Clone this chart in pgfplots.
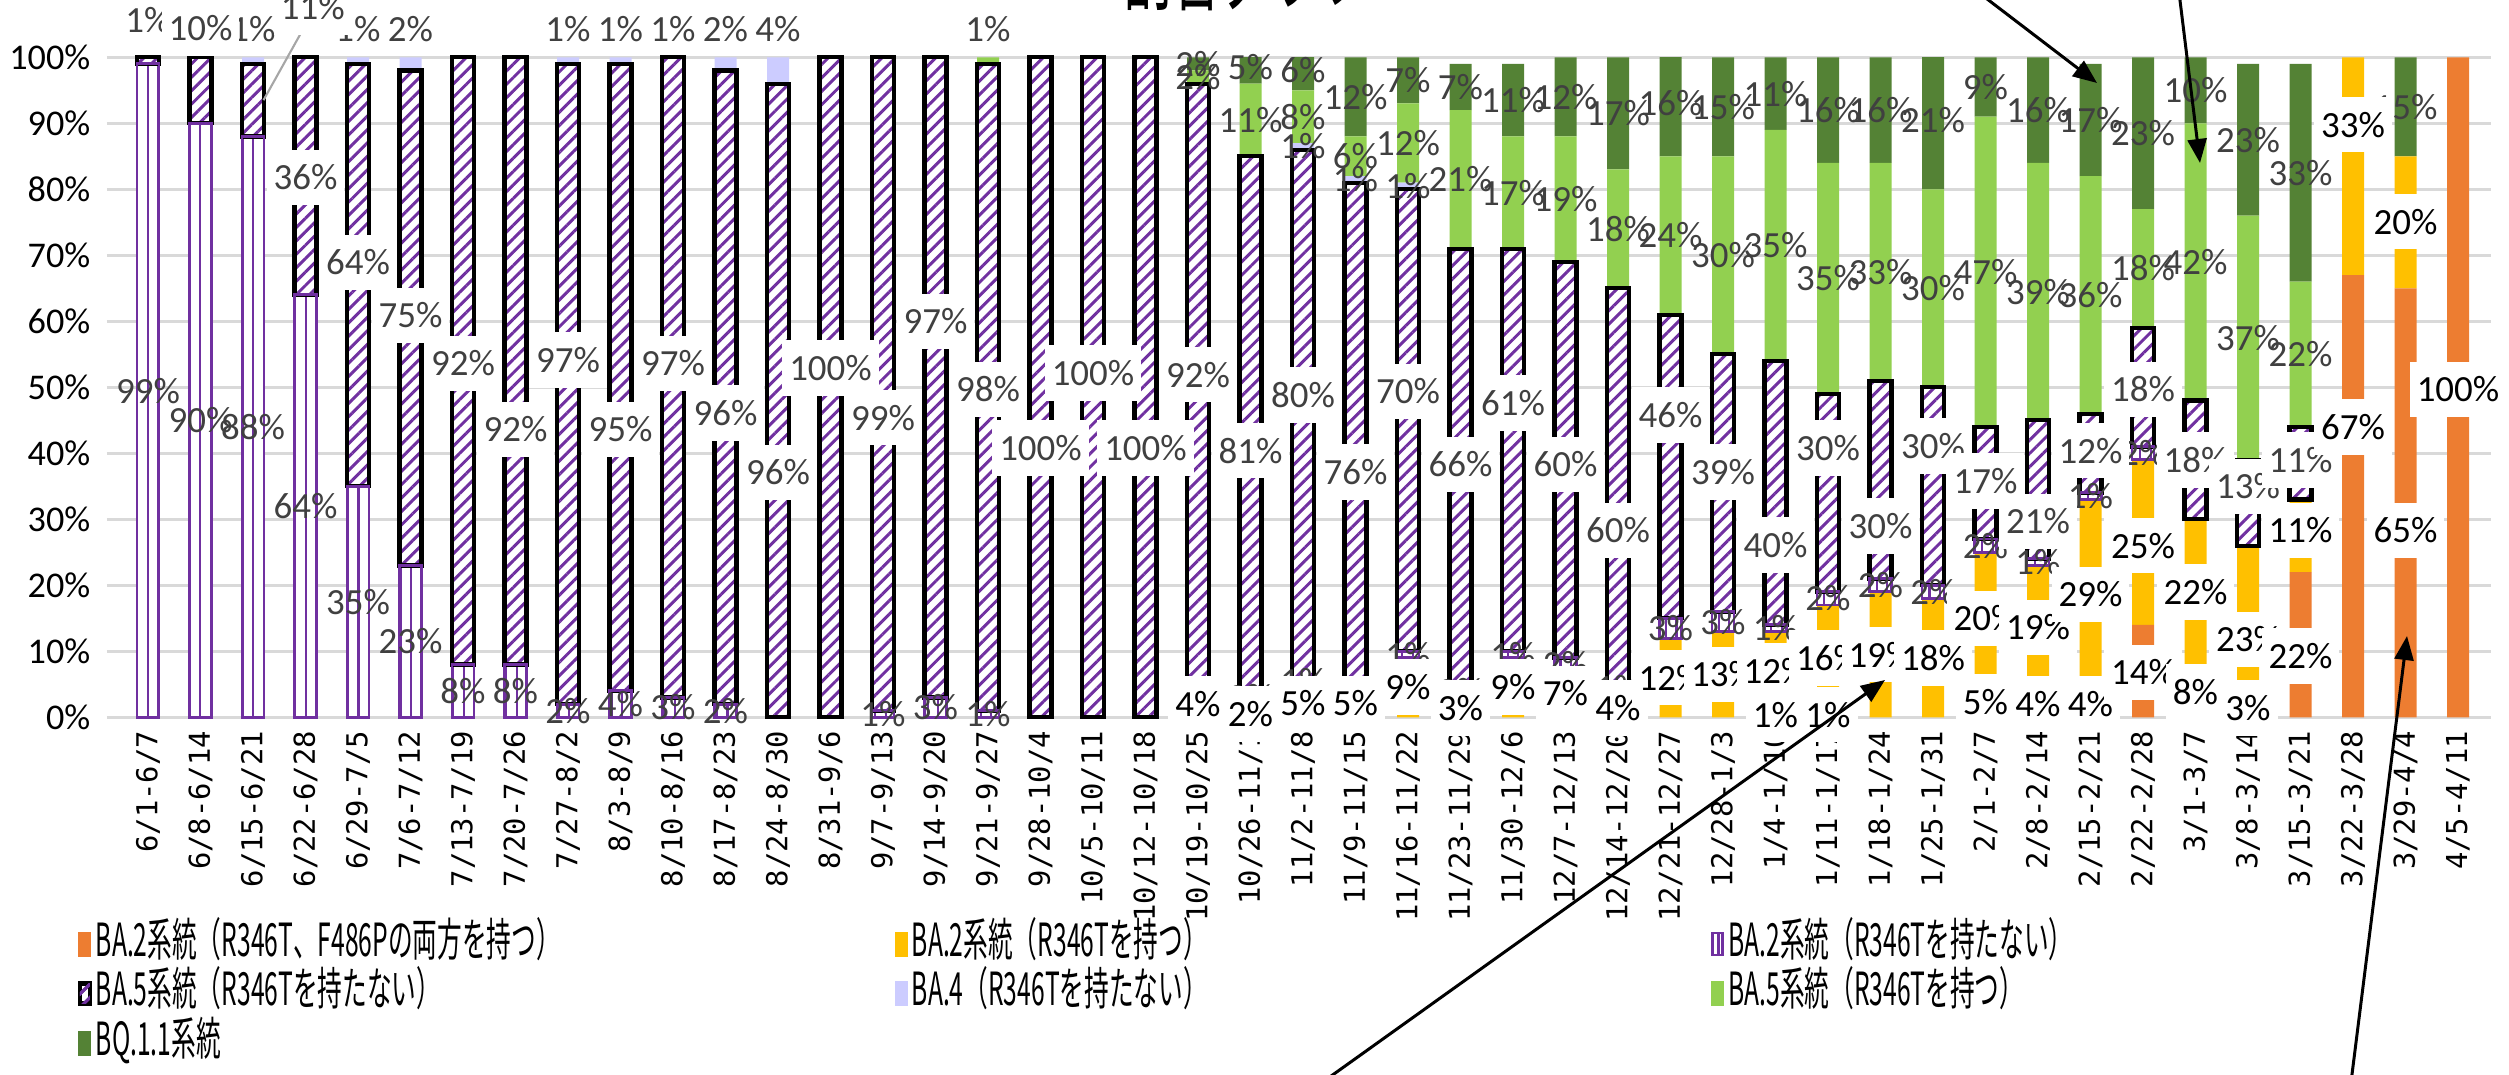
\documentclass[border=0pt]{standalone}
\usepackage{fontspec}
\setmainfont{Carlito}
\newfontfamily\jpfont[FakeStretch=0.54]{Noto Sans CJK JP}
\newfontfamily\monofont{DejaVu Sans Mono}
\usepackage{pgfplots}
\pgfplotsset{compat=1.18}
\usepackage{pgfplotstable}
\usetikzlibrary{patterns.meta,arrows.meta}

\definecolor{cA}{HTML}{ED7D31}
\definecolor{cB}{HTML}{FFC000}
\definecolor{purp}{HTML}{7030A0}
\definecolor{cE}{HTML}{CCCCFF}
\definecolor{cF}{HTML}{92D050}
\definecolor{cG}{HTML}{548235}
\definecolor{gridc}{HTML}{D9D9D9}
\definecolor{lblgray}{HTML}{404040}

% values in %; Ay, By, Dy = height at which the data label of A, B, D sits
\pgfplotstableread{
x A B C D E F G Ay By Dy
1 0 0 99 1 0 0 0 0 0 105.6
2 0 0 90 10 0 0 0 0 0 104.4
3 0 0 88 11 1 0 0 0 0 0
4 0 0 64 36 0 0 0 0 0 81.8
5 0 0 35 64 1 0 0 0 0 68.9
6 0 0 23 75 2 0 0 0 0 60.9
7 0 0 8 92 0 0 0 0 0 53.6
8 0 0 8 92 0 0 0 0 0 43.6
9 0 0 2 97 1 0 0 0 0 54.1
10 0 0 4 95 1 0 0 0 0 43.6
11 0 0 3 97 0 1 0 0 0 53.6
12 0 0 2 96 2 0 0 0 0 46.1
13 0 0 0 96 4 0 0 0 0 37.1
14 0 0 0 100 0 0 0 0 0 52.9
15 0 0 1 99 0 0 0 0 0 45.4
16 0 0 3 97 0 0 0 0 0 60.0
17 0 0 1 98 0 1 0 0 0 49.7
18 0 0 0 100 0 0 0 0 0 40.8
19 0 0 0 100 0 0 0 0 0 52.2
20 0 0 0 100 0 0 0 0 0 40.8
21 0 4 0 92 0 2 2 0 2.0 51.9
22 0 2 2 81 0 11 5 0 0.5 40.4
23 0 5 1 80 1 8 6 0 2.1 48.8
24 0 5 0 76 1 6 12 0 2.1 37.2
25 0 9 1 70 1 12 7 0 4.6 49.4
26 0 3 2 66 0 21 7 0 1.4 38.3
27 0 9 1 61 0 17 11 0 4.6 47.6
28 0 7 2 60 0 19 12 0 3.6 38.3
29 0 4 1 60 0 18 17 0 1.4 28.3
30 0 12 3 46 0 24 16 0 6.0 45.8
31 0 13 3 39 0 30 15 0 6.5 37.2
32 1 12 1 40 0 35 11 0.4 7.0 26.1
33 1 16 2 30 0 35 16 0.4 9.0 40.8
34 0 19 2 30 0 33 16 0 9.5 29.0
35 0 18 2 30 0 30 21 0 9.0 41.1
36 5 20 2 17 0 47 9 2.3 15.0 35.8
37 4 19 1 21 0 39 16 2.0 13.6 29.7
38 4 29 1 12 0 36 17 2.0 18.6 40.4
39 14 25 2 18 0 18 23 6.8 26.0 49.7
40 8 22 0 18 0 42 10 3.9 19.0 39.0
41 3 23 0 13 0 37 23 1.4 11.8 35.0
42 22 11 0 11 0 22 33 9.3 28.3 39.0
43 67 33 0 0 0 0 0 44.0 89.8 0
44 65 20 0 0 0 0 15 28.3 75.1 0
45 100 0 0 0 0 0 0 49.7 0 0
}\datatable

\pgfplotsset{
  base/.style={
    scale only axis, width=238.4mm, height=66.0mm,
    at={(10.7mm,35.67mm)}, anchor=south west,
    xmin=0.219, xmax=45.629, ymin=0, ymax=100,
    enlargelimits=false,
  },
  lbl/.style={draw=none, mark=none, point meta=explicit,
    nodes near coords={\pgfmathprintnumber[fixed,precision=0,assume math mode=true]{\pgfplotspointmeta}\%},
    every node near coord/.append style={anchor=center, font=\fontsize{10.5}{12}\selectfont, text=lblgray, inner sep=0.3mm}},
  boxed/.style={every node near coord/.append style={fill=white, inner xsep=0.7mm, inner ysep=1.5mm}},
  blk/.style={every node near coord/.append style={text=black}},
}

\begin{document}
\begin{tikzpicture}
\useasboundingbox (0,0) rectangle (250.9mm,107.4mm);

% ---------- bars ----------
\begin{axis}[base, ybar stacked, bar width=2.2mm,
  ytick={0,10,...,100},
  yticklabels={0\%,10\%,20\%,30\%,40\%,50\%,60\%,70\%,80\%,90\%,100\%},
  ymajorgrids, grid style={gridc, line width=0.75pt},
  xtick={1,...,45},
  xticklabels={6/1-6/7,6/8-6/14,6/15-6/21,6/22-6/28,6/29-7/5,7/6-7/12,7/13-7/19,7/20-7/26,7/27-8/2,8/3-8/9,8/10-8/16,8/17-8/23,8/24-8/30,8/31-9/6,9/7-9/13,9/14-9/20,9/21-9/27,9/28-10/4,10/5-10/11,10/12-10/18,10/19-10/25,10/26-11/1,11/2-11/8,11/9-11/15,11/16-11/22,11/23-11/29,11/30-12/6,12/7-12/13,12/14-12/20,12/21-12/27,12/28-1/3,1/4-1/10,1/11-1/17,1/18-1/24,1/25-1/31,2/1-2/7,2/8-2/14,2/15-2/21,2/22-2/28,3/1-3/7,3/8-3/14,3/15-3/21,3/22-3/28,3/29-4/4,4/5-4/11},
  major tick length=0pt,
  axis line style={draw=none},
  yticklabel style={font=\fontsize{10.3}{12}\selectfont, inner sep=0pt, inner xsep=1.6mm},
  xticklabel style={font=\monofont\fontsize{8.2}{9}\selectfont, rotate=90, anchor=east, inner sep=0pt, inner xsep=1.3mm},
  legend columns=3, legend cell align=left,
  legend style={at={(-0.0126,-0.305)}, anchor=north west, draw=none, fill=none,
    inner sep=0pt, row sep=0mm,
    font=\jpfont\fontsize{13}{14}\selectfont,
    nodes={inner sep=0.4mm, text height=3.3mm, text depth=0.85mm}},
]
\addplot[fill=cA, draw=none,
  legend image code/.code={\fill[cA] (0mm,-1.25mm) rectangle (1.3mm,1.25mm);}]
  table[x=x,y=A]{\datatable};
\addlegendentry{\makebox[79.5mm][l]{BA.2系統（R346T、F486Pの両方を持つ）}}
\addplot[fill=cB, draw=none,
  legend image code/.code={\fill[cB] (0mm,-1.25mm) rectangle (1.3mm,1.25mm);}]
  table[x=x,y=B]{\datatable};
\addlegendentry{\makebox[79.5mm][l]{BA.2系統（R346Tを持つ）}}
\addplot[fill=white, draw=none,
  postaction={pattern={Lines[angle=90,distance=3pt,line width=0.6pt]}, pattern color=purp},
  legend image code/.code={\draw[purp, line width=0.8pt, fill=white] (0.2mm,-1.1mm) rectangle (1.2mm,1.1mm); \draw[purp, line width=0.5pt] (0.7mm,-1.1mm) -- (0.7mm,1.1mm);}]
  table[x=x,y=C]{\datatable};
\addlegendentry{\makebox[79.5mm][l]{BA.2系統（R346Tを持たない）}}
\addplot[fill=white, draw=none,
  postaction={pattern={Lines[angle=45,distance=2.7pt,line width=0.85pt]}, pattern color=purp},
  legend image code/.code={\draw[black, line width=1.2pt, fill=white, postaction={pattern={Lines[angle=45,distance=2.7pt,line width=0.85pt]}, pattern color=purp}] (0.2mm,-1.0mm) rectangle (1.2mm,1.0mm);}]
  table[x=x,y=D]{\datatable};
\addlegendentry{\makebox[79.5mm][l]{BA.5系統（R346Tを持たない）}}
\addplot[fill=cE, draw=none,
  legend image code/.code={\fill[cE] (0mm,-1.25mm) rectangle (1.3mm,1.25mm);}]
  table[x=x,y=E]{\datatable};
\addlegendentry{\makebox[79.5mm][l]{BA.4（R346Tを持たない）}}
\addplot[fill=cF, draw=none,
  legend image code/.code={\fill[cF] (0mm,-1.25mm) rectangle (1.3mm,1.25mm);}]
  table[x=x,y=F]{\datatable};
\addlegendentry{\makebox[79.5mm][l]{BA.5系統（R346Tを持つ）}}
\addplot[fill=cG, draw=none,
  legend image code/.code={\fill[cG] (0mm,-1.25mm) rectangle (1.3mm,1.25mm);}]
  table[x=x,y=G]{\datatable};
\addlegendentry{\makebox[79.5mm][l]{BQ.1.1系統}}
\end{axis}

% ---------- bar borders (C purple, D black) ----------
\begin{axis}[base, hide axis, clip=false, ybar stacked, bar width=2.2mm]
\addplot[draw=none, fill=none]
  table[x=x, y expr={(\thisrow{C}+\thisrow{D}<0.5) ? nan : (\thisrow{A}+\thisrow{B})}]{\datatable};
\addplot[draw=purp, line width=0.8pt, fill=none]
  table[x=x, y expr={(\thisrow{C}+\thisrow{D}<0.5) ? nan : \thisrow{C}}]{\datatable};
\addplot[draw=black, line width=1.2pt, fill=none]
  table[x=x, y expr={(\thisrow{C}+\thisrow{D}<0.5) ? nan : \thisrow{D}}]{\datatable};
\end{axis}

% ---------- data labels ----------
\begin{axis}[base, hide axis, clip=false]
\addplot[lbl]
  table[x=x, meta=C, y expr={(\thisrow{C}<0.5) ? nan : \thisrow{A}+\thisrow{B}+\thisrow{C}/2}]{\datatable};
\addplot[lbl]
  table[x=x, meta=E, y expr={(\thisrow{E}<0.5) ? nan : ((\thisrow{A}+\thisrow{B}+\thisrow{C}+\thisrow{D}+\thisrow{E}>99) ? 104.3 : \thisrow{A}+\thisrow{B}+\thisrow{C}+\thisrow{D}+\thisrow{E}/2)}]{\datatable};
\addplot[lbl]
  table[x=x, meta=F, y expr={(\thisrow{F}<0.5) ? nan : ((\thisrow{F}<1.5) ? 104.3 : \thisrow{A}+\thisrow{B}+\thisrow{C}+\thisrow{D}+\thisrow{E}+\thisrow{F}/2)}]{\datatable};
\addplot[lbl]
  table[x=x, meta=G, y expr={(\thisrow{G}<0.5) ? nan : \thisrow{A}+\thisrow{B}+\thisrow{C}+\thisrow{D}+\thisrow{E}+\thisrow{F}+\thisrow{G}/2}]{\datatable};
\addplot[lbl, boxed]
  table[x=x, meta=D, y expr={(\thisrow{D}<0.5 || \thisrow{x}==3) ? nan : \thisrow{Dy}}]{\datatable};
\addplot[lbl, boxed, blk]
  table[x=x, meta=B, y expr={(\thisrow{B}<0.5) ? nan : \thisrow{By}}]{\datatable};
\addplot[lbl, boxed, blk]
  table[x=x, meta=A, y expr={(\thisrow{A}<0.5) ? nan : \thisrow{Ay}}]{\datatable};
% moved label of 6/15-6/21 with leader line
\addplot[gray!70, line width=0.6pt, mark=none] coordinates {(3.95,104.2) (3.2,93.5)};
\addplot[lbl, boxed] coordinates {(4.14,107.6) [11]};
\end{axis}

% ---------- title (cut off at the top) and arrows ----------
\node[font=\jpfont\fontsize{26}{28}\selectfont, anchor=base] at (124.6mm,107.0mm) {割合グラフ};
\draw[black, line width=0.85pt, -{Triangle[length=2.4mm,width=1.9mm]}] (193.6mm,111.4mm) -- (209.7mm,99.1mm);
\draw[black, line width=0.85pt, -{Triangle[length=2.4mm,width=1.9mm]}] (217.5mm,111.4mm) -- (220.0mm,91.1mm);
\draw[black, line width=0.85pt, -{Triangle[length=2.4mm,width=1.9mm]}] (127.8mm,-4.0mm) -- (188.5mm,39.4mm);
\draw[black, line width=0.85pt, -{Triangle[length=2.4mm,width=1.9mm]}] (234.7mm,-4.0mm) -- (240.7mm,43.8mm);
\end{tikzpicture}
\end{document}
